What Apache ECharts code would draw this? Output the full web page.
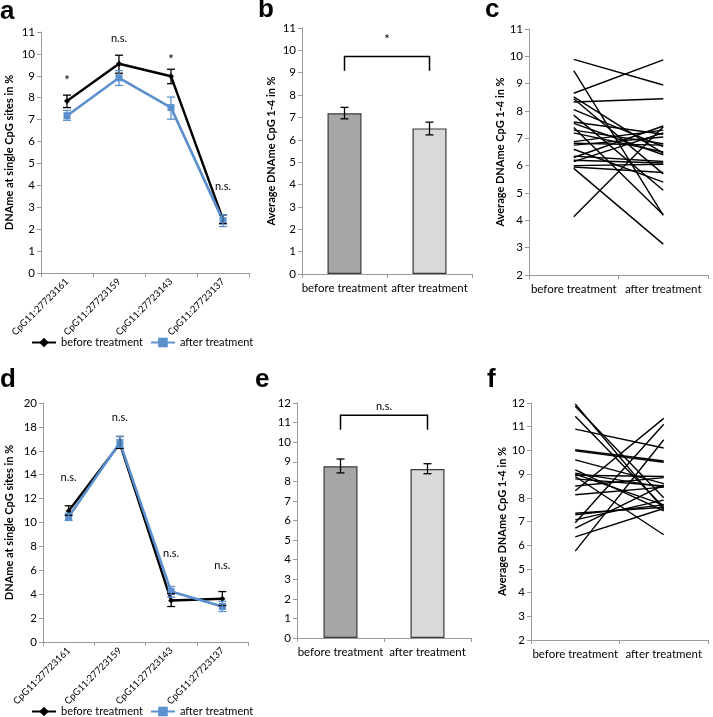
<!DOCTYPE html>
<html><head><meta charset="utf-8">
<script src="https://cdn.jsdelivr.net/npm/echarts@6/dist/echarts.min.js"></script>
<style>html,body{margin:0;padding:0;background:#fff}#c{width:713px;height:717px}</style>
</head><body><div id="c"></div>
<script>
// ---------- DATA ----------
const sites = ['CpG11:27723161','CpG11:27723159','CpG11:27723143','CpG11:27723137'];
const groups = ['before treatment','after treatment'];

// panel a
const aBefore   = [7.85, 9.55, 8.98, 2.45];
const aBeforeLo = [7.55, 9.12, 8.64, 2.25];
const aBeforeHi = [8.12, 9.94, 9.30, 2.65];
const aAfter    = [7.18, 8.91, 7.55, 2.39];
const aAfterLo  = [6.97, 8.56, 7.02, 2.12];
const aAfterHi  = [7.42, 9.24, 8.03, 2.65];
const aSig  = ['*','n.s.','*','n.s.'];
const aSigY = [8.75, 10.7, 9.75, 3.94];

// panel b
const bMeans = [7.19, 6.51];
const bLo    = [6.94, 6.22];
const bHi    = [7.45, 6.79];
const bBracket = [9.09, 9.73];
const bSig = '*';
const bSigY = 10.45;

// panel c (before, after) per subject
const cBefore = [9.89, 8.65, 8.33, 9.48, 4.13, 5.90, 8.52, 8.45, 8.05, 7.85, 7.60, 7.55, 7.40, 7.30, 7.20, 6.88, 6.82, 6.75, 6.60, 6.35, 6.30, 6.20, 6.15, 6.00, 5.95];
const cAfter  = [8.95, 9.87, 8.45, 4.18, 7.42, 3.13, 6.45, 5.70, 6.70, 5.10, 7.15, 6.40, 4.20, 6.80, 6.50, 7.30, 6.75, 7.05, 5.40, 6.15, 7.45, 6.10, 7.20, 6.05, 5.75];

// panel d
const dBefore   = [10.97, 16.6, 3.47, 3.62];
const dBeforeLo = [10.6, 16.2, 2.97, 3.05];
const dBeforeHi = [11.4, 17.2, 4.05, 4.22];
const dAfter    = [10.47, 16.7, 4.22, 2.97];
const dAfterLo  = [10.17, 16.3, 3.75, 2.55];
const dAfterHi  = [10.77, 17.2, 4.64, 3.40];
const dSig  = ['n.s.','n.s.','n.s.','n.s.'];
const dSigY = [13.75, 18.8, 7.4, 6.4];

// panel e
const eMeans = [8.77, 8.63];
const eLo    = [8.43, 8.39];
const eHi    = [9.14, 8.90];
const eBracket = [10.64, 11.37];
const eSig = 'n.s.';
const eSigY = 11.83;

// panel f
const fBefore = [11.96, 11.86, 11.44, 10.90, 10.03, 9.98, 9.60, 9.18, 9.04, 8.95, 8.90, 8.50, 8.30, 8.13, 7.35, 7.28, 7.07, 6.95, 6.72, 6.35, 5.75, 8.80, 9.00];
const fAfter  = [7.50, 8.00, 7.60, 10.10, 9.55, 9.50, 8.60, 7.45, 8.45, 8.90, 6.44, 8.85, 11.35, 8.45, 7.60, 7.70, 7.90, 11.10, 8.55, 7.55, 10.45, 8.50, 7.70];

// ---------- STYLE ----------
const FONT = 'Lato, "Open Sans", sans-serif';
const AXIS_COLOR = '#9a9a9a';
const BLUE = '#5b8fcd';

const chart = echarts.init(document.getElementById('c'), null, {renderer:'canvas'});

const grids = [
  {left:41,  top:32,  width:208, height:241},  // a
  {left:302, top:28,  width:170, height:246},  // b
  {left:529, top:29,  width:179, height:246},  // c
  {left:43,  top:403, width:205, height:239},  // d
  {left:297, top:403, width:174, height:235},  // e
  {left:531, top:403, width:177, height:237}   // f
];

function yAx(gi, min, max, interval, name, gap){
  return {
    type:'value', gridIndex:gi, min, max, interval,
    name: name || '', nameLocation:'middle', nameGap: gap || 25, nameRotate:90,
    nameTextStyle:{fontFamily:FONT, fontWeight:'bold', fontSize:11, color:'#000'},
    axisLine:{show:true, lineStyle:{color:AXIS_COLOR}},
    axisTick:{show:true, length:4, lineStyle:{color:AXIS_COLOR}},
    axisLabel:{fontFamily:FONT, fontSize:11.5, color:'#000', margin:6},
    splitLine:{show:false}
  };
}
function xAx(gi, cats, rotate){
  return {
    type:'category', gridIndex:gi, data:cats, boundaryGap:true,
    axisLine:{show:true, lineStyle:{color:AXIS_COLOR}},
    axisTick:{show:true, length:4, interval:0, alignWithLabel:false, lineStyle:{color:AXIS_COLOR}},
    axisLabel: rotate ? {rotate:45, interval:0, fontFamily:FONT, fontSize:9.5, color:'#000', margin:7}
                      : {interval:0, fontFamily:FONT, fontSize:11.5, color:'#000', margin:8},
    splitLine:{show:false}
  };
}

function errSeries(gi, lo, hi, color, cap){
  return {
    type:'custom', xAxisIndex:gi, yAxisIndex:gi, silent:true, z:5,
    data: lo.map((v,i)=>[i, v, hi[i]]),
    encode:{x:0, y:[1,2]},
    renderItem:function(params, api){
      const p1 = api.coord([api.value(0), api.value(1)]);
      const p2 = api.coord([api.value(0), api.value(2)]);
      const st = {stroke:color, lineWidth:1.3};
      return {type:'group', children:[
        {type:'line', shape:{x1:p1[0],y1:p1[1],x2:p2[0],y2:p2[1]}, style:st},
        {type:'line', shape:{x1:p1[0]-cap,y1:p1[1],x2:p1[0]+cap,y2:p1[1]}, style:st},
        {type:'line', shape:{x1:p2[0]-cap,y1:p2[1],x2:p2[0]+cap,y2:p2[1]}, style:st}
      ]};
    }
  };
}

function textSeries(gi, xs, ys, texts){
  return {
    type:'custom', xAxisIndex:gi, yAxisIndex:gi, silent:true, z:6,
    data: ys.map((v,i)=>[xs[i], v]),
    renderItem:function(params, api){
      const xv = api.value(0);
      let px;
      if (xv % 1 !== 0) {
        const a = api.coord([Math.floor(xv), api.value(1)]);
        const b = api.coord([Math.ceil(xv), api.value(1)]);
        px = [(a[0]+b[0])/2, a[1]];
      } else px = api.coord([xv, api.value(1)]);
      const t = texts[params.dataIndex];
      return {type:'text', x:px[0], y:px[1], style:{text:t, align:'center', verticalAlign:'middle',
        fontFamily:FONT, fontSize: t==='*' ? 13 : 11, fill:'#000'}};
    }
  };
}

function bracketSeries(gi, br){
  return {
    type:'custom', xAxisIndex:gi, yAxisIndex:gi, silent:true, z:6,
    data:[[0, 1, br[0], br[1]]],
    renderItem:function(params, api){
      const a0 = api.coord([0, api.value(2)]), a1 = api.coord([0, api.value(3)]);
      const b1 = api.coord([1, api.value(3)]), b0 = api.coord([1, api.value(2)]);
      return {type:'polyline', shape:{points:[a0,a1,b1,b0]}, style:{stroke:'#000', lineWidth:1.5, fill:null}};
    }
  };
}

function barSeries(gi, vals){
  return {
    type:'bar', xAxisIndex:gi, yAxisIndex:gi, barWidth:34, silent:true,
    data: vals.map((v,i)=>({value:v, itemStyle:{color: i===0 ? '#a6a6a6' : '#d9d9d9', borderColor:'#3a3a3a', borderWidth:1.2}}))
  };
}

function pairSeries(gi, before, after){
  return before.map((b,i)=>({
    type:'line', xAxisIndex:gi, yAxisIndex:gi, silent:true, symbol:'none',
    data:[b, after[i]], lineStyle:{color:'#000', width:1.4}
  }));
}

function meanLines(gi, before, after){
  return [
    {name:groups[0], type:'line', xAxisIndex:gi, yAxisIndex:gi, data:before, color:'#000',
     symbol:'diamond', symbolSize:6, lineStyle:{width:2.4, color:'#000'}, itemStyle:{color:'#000'}, z:3},
    {name:groups[1], type:'line', xAxisIndex:gi, yAxisIndex:gi, data:after, color:BLUE,
     symbol:'rect', symbolSize:7, lineStyle:{width:2.6, color:BLUE}, itemStyle:{color:BLUE}, z:4}
  ];
}

const series = [].concat(
  meanLines(0, aBefore, aAfter),
  [errSeries(0, aBeforeLo, aBeforeHi, '#000', 4), errSeries(0, aAfterLo, aAfterHi, BLUE, 4),
   textSeries(0, [0,1,2,3], aSigY, aSig)],
  [barSeries(1, bMeans), errSeries(1, bLo, bHi, '#000', 4), bracketSeries(1, bBracket),
   textSeries(1, [0.5], [bSigY], [bSig])],
  pairSeries(2, cBefore, cAfter),
  meanLines(3, dBefore, dAfter),
  [errSeries(3, dBeforeLo, dBeforeHi, '#000', 4), errSeries(3, dAfterLo, dAfterHi, BLUE, 4),
   textSeries(3, [0,1,2,3], dSigY, dSig)],
  [barSeries(4, eMeans), errSeries(4, eLo, eHi, '#000', 4), bracketSeries(4, eBracket),
   textSeries(4, [0.5], [eSigY], [eSig])],
  pairSeries(5, fBefore, fAfter)
);

const legendBase = {
  data: groups, orient:'horizontal', itemWidth:24, itemHeight:12, itemGap:7, padding:0,
  textStyle:{fontFamily:FONT, fontSize:11, color:'#000'}, selectedMode:false
};

const letters = [['a',0,25],['b',258,23],['c',485,23],['d',0,393],['e',255,393],['f',487,393]];

chart.setOption({
  animation:false,
  backgroundColor:'#fff',
  grid: grids,
  xAxis: [xAx(0, sites, true), xAx(1, groups), xAx(2, groups), xAx(3, sites, true), xAx(4, groups), xAx(5, groups)],
  yAxis: [
    yAx(0, 0, 11, 1, 'DNAme at single CpG sites in %', 26),
    yAx(1, 0, 11, 1, 'Average DNAme CpG 1-4 in %', 25),
    yAx(2, 2, 11, 1, 'Average DNAme CpG 1-4 in %', 21),
    yAx(3, 0, 20, 2, 'DNAme at single CpG sites in %', 28),
    yAx(4, 0, 12, 1, '', 25),
    yAx(5, 2, 12, 1, 'Average DNAme CpG 1-4 in %', 23)
  ],
  legend: [
    Object.assign({left:31, top:337}, legendBase),
    Object.assign({left:31, top:706}, legendBase)
  ],
  graphic: letters.map(l=>({type:'text', x:l[1], y:l[2],
    style:{text:l[0], fontFamily:'"Liberation Sans", Arial, sans-serif', fontWeight:'bold', fontSize:26, fill:'#000', verticalAlign:'bottom'}})),
  series
});
</script></body></html>
